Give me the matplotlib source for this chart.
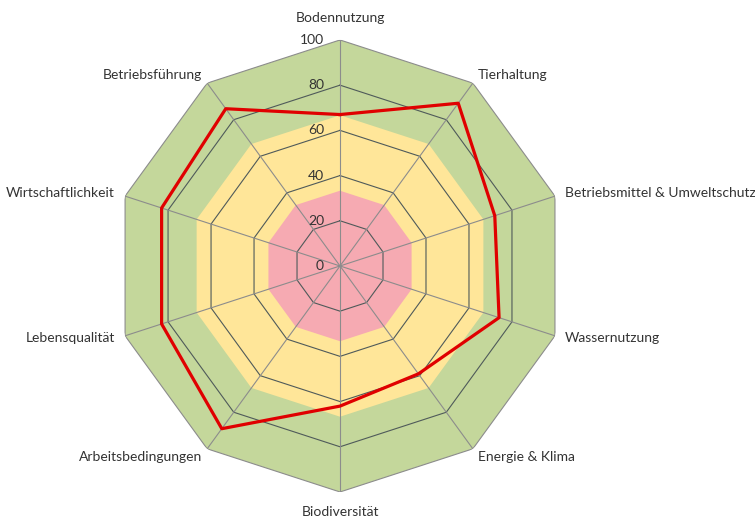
import numpy as np
import matplotlib
matplotlib.use('Agg')
from matplotlib import pyplot as plt

categories = ['Bodennutzung', 'Tierhaltung', 'Betriebsmittel & Umweltschutz',
              'Wassernutzung', 'Energie & Klima', 'Biodiversität',
              'Arbeitsbedingungen', 'Lebensqualität', 'Wirtschaftlichkeit',
              'Betriebsführung']
values = [67, 89, 72, 74, 59, 62, 89, 83, 83, 86]
band_limits = [100, 66.7, 33.3]
band_colors = ['#c4d79b', '#ffe699', '#f6aab2']
r_ticks = [0, 20, 40, 60, 80, 100]

# label offsets in pixels (dx, dy, ha)
label_offsets = [(0, 22, 'center'), (5, 8, 'left'), (10, 3, 'left'),
                 (10, -2, 'left'), (5, -8, 'left'), (0, -20, 'center'),
                 (-5, -8, 'right'), (-10, -2, 'right'), (-10, 3, 'right'),
                 (-5, 8, 'right')]

plt.rcParams['font.family'] = ['Lato', 'DejaVu Sans']

n = len(categories)
angles = np.linspace(0, 2 * np.pi, n, endpoint=False)
closed = np.append(angles, angles[0])

fig = plt.figure(figsize=(7.55, 5.17), dpi=100)
ax = fig.add_axes([0.151, 0.0484, 0.5987, 0.8743], projection='polar')
ax.set_theta_offset(np.pi / 2)
ax.set_theta_direction(-1)
ax.set_ylim(0, 100)
ax.grid(False)
ax.spines['polar'].set_visible(False)
ax.set_xticks([])
ax.set_yticks([])
ax.patch.set_alpha(0)

# colour bands
for lim, col in zip(band_limits, band_colors):
    ax.fill(closed, [lim] * (n + 1), color=col, lw=0, zorder=1)

# rings
for r in r_ticks[1:]:
    c = '#8c8c8c' if r == 100 else '#4f5a5a'
    ax.plot(closed, [r] * (n + 1), color=c, lw=0.8, zorder=2)

# spokes
for a in angles:
    ax.plot([a, a], [0, 100], color='#8c8c8c', lw=0.8, zorder=2)

# data
ax.plot(closed, values + values[:1], color='#e00000', lw=2.3, zorder=3)

# radial labels
for r in r_ticks:
    ax.annotate(str(r), xy=(0, r), xytext=(-16, 0), textcoords='offset pixels',
                ha='right', va='center', fontsize=10, color='#333333', zorder=4)

# category labels
for a, lab, (dx, dy, ha) in zip(angles, categories, label_offsets):
    ax.annotate(lab, xy=(a, 100), xytext=(dx, dy), textcoords='offset pixels',
                ha=ha, va='center', fontsize=10, color='#333333',
                annotation_clip=False)

fig.savefig('out.png', dpi=100)
